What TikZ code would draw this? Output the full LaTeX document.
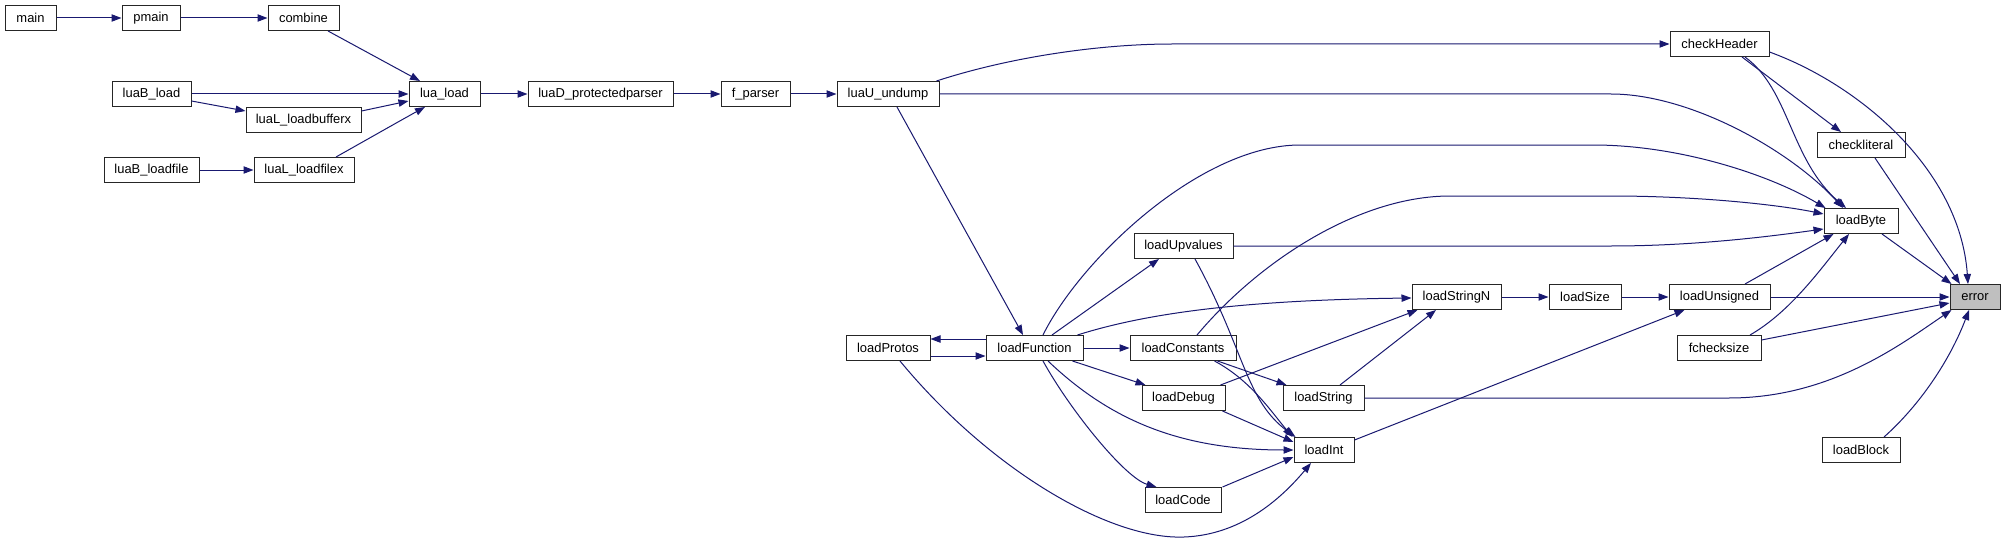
\documentclass[tikz,border=0pt]{standalone}
\usepackage{fontspec}
\setmainfont{Liberation Sans}
\usetikzlibrary{arrows.meta,calc}
\definecolor{midnight}{HTML}{191970}
\definecolor{errgray}{HTML}{BFBFBF}
\begin{document}
\begin{tikzpicture}[x=0.75pt,y=-0.75pt,
  fn/.style={draw=black!85,line width=0.75pt,fill=white,minimum height=18.75pt,inner sep=0pt,font=\fontsize{9.7}{11}\selectfont},
  wd/.style={minimum width=#1*0.75pt},
  e/.style={draw=midnight,line width=0.75pt,-{Triangle[length=7.5pt,width=5.5pt]}}]
\useasboundingbox[fill=white] (0,0) rectangle (2007,542);
% nodes
\node[fn,wd=51]  (main)   at (30.5,18) {main};
\node[fn,wd=58]  (pmain)  at (151,18) {pmain};
\node[fn,wd=71]  (combine) at (303.5,18) {combine};
\node[fn,wd=79]  (luaBload) at (151.5,94) {luaB\_load};
\node[fn,wd=71]  (luaload) at (444.5,94) {lua\_load};
\node[fn,wd=145] (luaD) at (600.5,94) {luaD\_protectedparser};
\node[fn,wd=115] (bufx) at (303.5,120) {luaL\_loadbufferx};
\node[fn,wd=95]  (luaBfile) at (151.5,170) {luaB\_loadfile};
\node[fn,wd=100] (filex) at (304,170) {luaL\_loadfilex};
\node[fn,wd=69]  (fparser) at (755.5,94) {f\_parser};
\node[fn,wd=102] (undump) at (888,94) {luaU\_undump};
\node[fn,wd=99]  (checkHeader) at (1719.5,44) {checkHeader};
\node[fn,wd=88]  (checkliteral) at (1861,145) {checkliteral};
\node[fn,wd=74]  (loadByte) at (1861,221) {loadByte};
\node[fn,wd=89]  (loadStringN) at (1456.5,297) {loadStringN};
\node[fn,wd=72]  (loadSize) at (1585,297) {loadSize};
\node[fn,wd=101] (loadUnsigned) at (1719.5,297) {loadUnsigned};
\node[fn,wd=50,fill=errgray] (error) at (1975,297) {error};
\node[fn,wd=84]  (fchecksize) at (1719,348) {fchecksize};
\node[fn,wd=78]  (loadBlock) at (1861,450) {loadBlock};
\node[fn,wd=99]  (loadUpvalues) at (1183.5,246) {loadUpvalues};
\node[fn,wd=84]  (loadProtos) at (888,348) {loadProtos};
\node[fn,wd=97]  (loadFunction) at (1034.5,348) {loadFunction};
\node[fn,wd=106] (loadConstants) at (1183,348) {loadConstants};
\node[fn,wd=83]  (loadDebug) at (1183.5,398) {loadDebug};
\node[fn,wd=81]  (loadString) at (1323.5,398) {loadString};
\node[fn,wd=60]  (loadInt) at (1324,450) {loadInt};
\node[fn,wd=76]  (loadCode) at (1183,500) {loadCode};
% edges
\draw[e] (main.east) -- (pmain.west);
\draw[e] (pmain.east) -- (combine.west);
\draw[e] ($(combine.south)+(24.5,0)$) -- ($(luaload.north)+(-24.5,0)$);
\draw[e] (luaBload.east) -- (luaload.west);
\draw[e] ($(luaBload.east)+(0,7)$) -- ($(bufx.west)+(0,-9)$);
\draw[e] ($(bufx.east)+(0,-9)$) -- ($(luaload.west)+(0,7)$);
\draw[e] (luaBfile.east) -- (filex.west);
\draw[e] ($(filex.north)+(32,0)$) .. controls (375,135) and (405,118) .. ($(luaload.south)+(-19.5,0)$);
\draw[e] (luaload.east) -- (luaD.west);
\draw[e] (luaD.east) -- (fparser.west);
\draw[e] (fparser.east) -- (undump.west);
\draw[e] ($(undump.north east)+(-3,0)$) .. controls (1010,57) and (1100,44) .. (1172,44) -- (checkHeader.west);
\draw[e] (undump.east) -- (1611,94) .. controls (1690,94) and (1790,150) .. ($(loadByte.north)+(-18,0)$);
\draw[e] ($(undump.south)+(9,0)$) -- ($(loadFunction.north)+(-11.5,0)$);
\draw[e] ($(checkHeader.east)+(0,8)$) .. controls (1860,85) and (1960,170) .. ($(error.north)+(-7,0)$);
\draw[e] ($(checkHeader.south)+(22.5,0)$) -- ($(checkliteral.north)+(-20,0)$);
\draw[e] ($(checkHeader.south)+(25.5,0)$) .. controls (1790,90) and (1790,160) .. ($(loadByte.north)+(-15,0)$);
\draw[e] ($(checkliteral.south)+(14,0)$) -- ($(error.north)+(-15,0)$);
\draw[e] ($(loadByte.south)+(21,0)$) -- ($(error.north west)+(2,0)$);
\draw[e] ($(loadFunction.north)+(8.5,0)$) .. controls (1080,260) and (1200,145) .. (1300,145) -- (1593,145) .. controls (1680,145) and (1770,175) .. ($(loadByte.north west)+(2,0)$);
\draw[e] ($(loadConstants.north)+(14,0)$) .. controls (1260,260) and (1360,196) .. (1450,196) -- (1611,196) .. controls (1700,196) and (1780,205) .. ($(loadByte.west)+(0,-7)$);
\draw[e] (loadUpvalues.east) -- (1611,246) .. controls (1700,246) and (1780,235) .. ($(loadByte.west)+(0,8)$);
\draw[e] ($(loadFunction.north)+(17.5,0)$) -- ($(loadUpvalues.south)+(-24.5,0)$);
\draw[e] ($(loadFunction.north east)+(-6,0)$) .. controls (1150,312) and (1250,300) .. ($(loadStringN.west)+(0,1)$);
\draw[e] (loadFunction.east) -- (loadConstants.west);
\draw[e] ($(loadFunction.west)+(0,-9)$) -- ($(loadProtos.east)+(0,-9)$);
\draw[e] ($(loadProtos.east)+(0,8)$) -- ($(loadFunction.west)+(0,8)$);
\draw[e] ($(loadFunction.south east)+(-11,0)$) -- ($(loadDebug.north west)+(4,0)$);
\draw[e] ($(loadFunction.south)+(13.5,0)$) .. controls (1110,420) and (1180,450) .. (loadInt.west);
\draw[e] ($(loadFunction.south)+(8.5,0)$) .. controls (1070,410) and (1125,478) .. ($(loadCode.north west)+(12,0)$);
\draw[e] ($(loadProtos.south)+(12,0)$) .. controls (990,470) and (1110,540) .. (1184,537) .. controls (1240,535) and (1280,500) .. ($(loadInt.south)+(-13,0)$);
\draw[e] ($(loadUpvalues.south)+(11.5,0)$) .. controls (1245,350) and (1245,400) .. ($(loadInt.north west)+(2,0)$);
\draw[e] ($(loadConstants.south east)+(-19,0)$) -- ($(loadString.north west)+(4,0)$);
\draw[e] ($(loadConstants.south east)+(-22,0)$) .. controls (1250,380) and (1270,410) .. ($(loadInt.north west)+(-1,0)$);
\draw[e] ($(loadDebug.north east)+(-5,0)$) -- ($(loadStringN.south west)+(6,0)$);
\draw[e] ($(loadDebug.south east)+(-3,0)$) -- ($(loadInt.west)+(0,-8)$);
\draw[e] ($(loadString.north)+(16.5,0)$) -- ($(loadStringN.south)+(-20.5,0)$);
\draw[e] (loadString.east) -- (1729,398) .. controls (1830,398) and (1900,345) .. ($(error.south west)+(2,0)$);
\draw[e] ($(loadCode.north east)+(1,0)$) -- ($(loadInt.west)+(0,7)$);
\draw[e] ($(loadInt.east)+(0,-10)$) -- ($(loadUnsigned.south west)+(16,0)$);
\draw[e] (loadStringN.east) -- (loadSize.west);
\draw[e] (loadSize.east) -- (loadUnsigned.west);
\draw[e] (loadUnsigned.east) -- (error.west);
\draw[e] ($(loadUnsigned.north)+(25.5,0)$) -- ($(loadByte.south west)+(10,0)$);
\draw[e] ($(fchecksize.north)+(31,0)$) .. controls (1790,312) and (1820,270) .. ($(loadByte.south)+(-12,0)$);
\draw[e] ($(fchecksize.east)+(0,-8)$) -- ($(error.west)+(0,6)$);
\draw[e] ($(loadBlock.north)+(23,0)$) .. controls (1920,405) and (1950,360) .. ($(error.south)+(-6,0)$);
\end{tikzpicture}
\end{document}
